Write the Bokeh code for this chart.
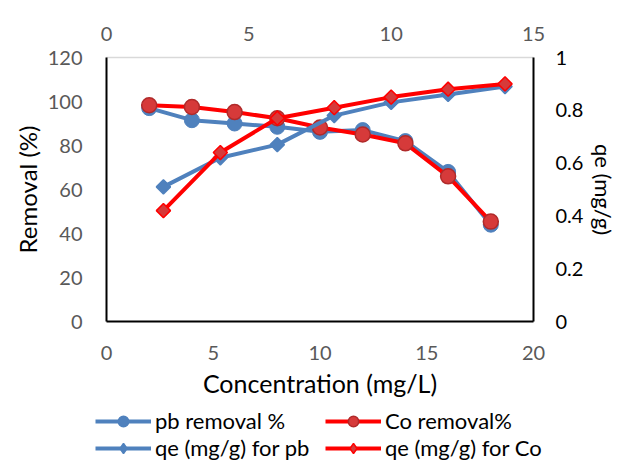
import math
from bokeh.plotting import figure
from bokeh.layouts import column
from bokeh.models import Range1d, LinearAxis, Legend, LegendItem, FixedTicker, NumeralTickFormatter
from bokeh.embed import file_html
from bokeh.resources import INLINE

conc = [2, 4, 6, 8, 10, 12, 14, 16, 18]
pb_removal = [97, 91.5, 90, 88.5, 86.2, 87, 82, 68, 44]
co_removal = [98.3, 97.5, 95.2, 92.4, 88.2, 85, 81, 66, 45.4]

conc_qe = [2, 4, 6, 8, 10, 12, 14]
pb_qe = [0.51, 0.62, 0.67, 0.78, 0.83, 0.86, 0.89]
co_qe = [0.42, 0.64, 0.77, 0.81, 0.85, 0.88, 0.90]

left_ticks = [0, 20, 40, 60, 80, 100, 120]
bottom_ticks = [0, 5, 10, 15, 20]
top_ticks = [0, 5, 10, 15]
right_ticks = [0, 0.2, 0.4, 0.6, 0.8, 1]

series_labels = ["pb removal %", "Co removal%", "qe (mg/g) for pb", "qe (mg/g) for Co"]

FONT = "Lato"
BLUE = "#4f81bd"
RED = "#ff0000"
RED_FILL = "#d63a3a"
RED_EDGE = "#b02a2a"

p = figure(width=623, height=400, x_range=Range1d(0, 20), y_range=Range1d(0, 120),
           output_backend="svg", toolbar_location=None,
           min_border_left=106, min_border_right=90, min_border_top=57, min_border_bottom=78)
p.frame_align = False
p.extra_x_ranges = {"top": Range1d(0, 15)}
p.extra_y_ranges = {"right": Range1d(0, 1)}
p.xgrid.visible = False
p.ygrid.visible = False
p.outline_line_color = None
p.background_fill_color = "white"
p.border_fill_color = "white"

left_axis = p.left[0]
bottom_axis = p.below[0]
top_axis = LinearAxis(x_range_name="top")
right_axis = LinearAxis(y_range_name="right")
p.add_layout(top_axis, "above")
p.add_layout(right_axis, "right")

for ax in [left_axis, bottom_axis, top_axis, right_axis]:
    ax.major_tick_out = 0
    ax.major_tick_in = 0
    ax.minor_tick_out = 0
    ax.minor_tick_in = 0
    ax.major_label_text_font = FONT
    ax.major_label_text_font_size = "20px"
    ax.major_label_text_color = "#595959"
    ax.axis_line_color = "black"
    ax.axis_line_width = 2
    ax.axis_label_text_font = FONT
    ax.axis_label_text_font_style = "normal"
    ax.axis_label_text_font_size = "24px"
    ax.axis_label_text_color = "black"

left_axis.ticker = FixedTicker(ticks=left_ticks)
bottom_axis.ticker = FixedTicker(ticks=bottom_ticks)
top_axis.ticker = FixedTicker(ticks=top_ticks)
right_axis.ticker = FixedTicker(ticks=right_ticks)
right_axis.formatter = NumeralTickFormatter(format="0.[0]")
right_axis.major_label_text_color = "black"
right_axis.axis_label_text_font_size = "22px"
bottom_axis.axis_label_text_font_size = "25px"
top_axis.axis_line_color = "#d9d9d9"
top_axis.axis_line_width = 1.5

left_axis.axis_label = "Removal (%)"
bottom_axis.axis_label = "Concentration (mg/L)"
right_axis.axis_label = "qe (mg/g)"

left_axis.major_label_standoff = 24
right_axis.major_label_standoff = 22
bottom_axis.major_label_standoff = 24
top_axis.major_label_standoff = 17
left_axis.axis_label_standoff = 3
right_axis.axis_label_standoff = 4
bottom_axis.axis_label_standoff = 5

p.line(conc, pb_removal, line_color=BLUE, line_width=4)
p.scatter(conc, pb_removal, marker="circle", size=15, fill_color=BLUE, line_color=BLUE)
p.line(conc, co_removal, line_color=RED, line_width=4)
p.scatter(conc, co_removal, marker="circle", size=15, fill_color=RED_FILL, line_color=RED_EDGE, line_width=1.5)
p.line(conc_qe, pb_qe, line_color=BLUE, line_width=4, x_range_name="top", y_range_name="right")
p.scatter(conc_qe, pb_qe, marker="square", angle=math.pi / 4, size=10, fill_color=BLUE, line_color=BLUE,
          line_width=1.5, x_range_name="top", y_range_name="right")
p.line(conc_qe, co_qe, line_color=RED, line_width=4, x_range_name="top", y_range_name="right")
p.scatter(conc_qe, co_qe, marker="square", angle=math.pi / 4, size=10, fill_color=RED_FILL, line_color=RED,
          line_width=1.5, x_range_name="top", y_range_name="right")

# legend strip: same series drawn in a strip whose ranges keep them out of view,
# so only the legend swatches and labels show
lf = figure(width=623, height=66, x_range=Range1d(-2, -1), y_range=Range1d(-2, -1),
            output_backend="svg", toolbar_location=None, x_axis_type=None, y_axis_type=None,
            min_border=0)
lf.frame_align = False
lf.xgrid.visible = False
lf.ygrid.visible = False
lf.outline_line_color = None
lf.border_fill_color = "white"
lf.background_fill_color = "white"

series = [
    (conc, pb_removal, dict(color=BLUE, marker="circle", size=15, fill=BLUE, edge=BLUE)),
    (conc, co_removal, dict(color=RED, marker="circle", size=15, fill=RED_FILL, edge=RED_EDGE)),
    (conc_qe, pb_qe, dict(color=BLUE, marker="diamond", size=15, fill=BLUE, edge=BLUE)),
    (conc_qe, co_qe, dict(color=RED, marker="diamond", size=15, fill=RED_FILL, edge=RED)),
]
items = []
for lab, (xs, ys, st) in zip(series_labels, series):
    lr = lf.line(xs, ys, line_color=st["color"], line_width=4)
    sr = lf.scatter(xs, ys, marker=st["marker"], size=st["size"],
                    fill_color=st["fill"], line_color=st["edge"], line_width=1.5)
    items.append(LegendItem(label=lab, renderers=[lr, sr]))

lg = Legend(items=items, orientation="horizontal", ncols=2, location=(95, 5))
lg.label_text_font = FONT
lg.label_text_font_size = "22px"
lg.label_text_color = "black"
lg.glyph_width = 56
lg.glyph_height = 26
lg.label_height = 26
lg.label_width = 170
lg.label_standoff = 4
lg.spacing = 0
lg.padding = 0
lg.margin = 0
lg.border_line_color = None
lg.background_fill_alpha = 0
lf.add_layout(lg, "center")

layout = column(p, lf, spacing=0)
open("out.html", "w").write(file_html(layout, INLINE))
